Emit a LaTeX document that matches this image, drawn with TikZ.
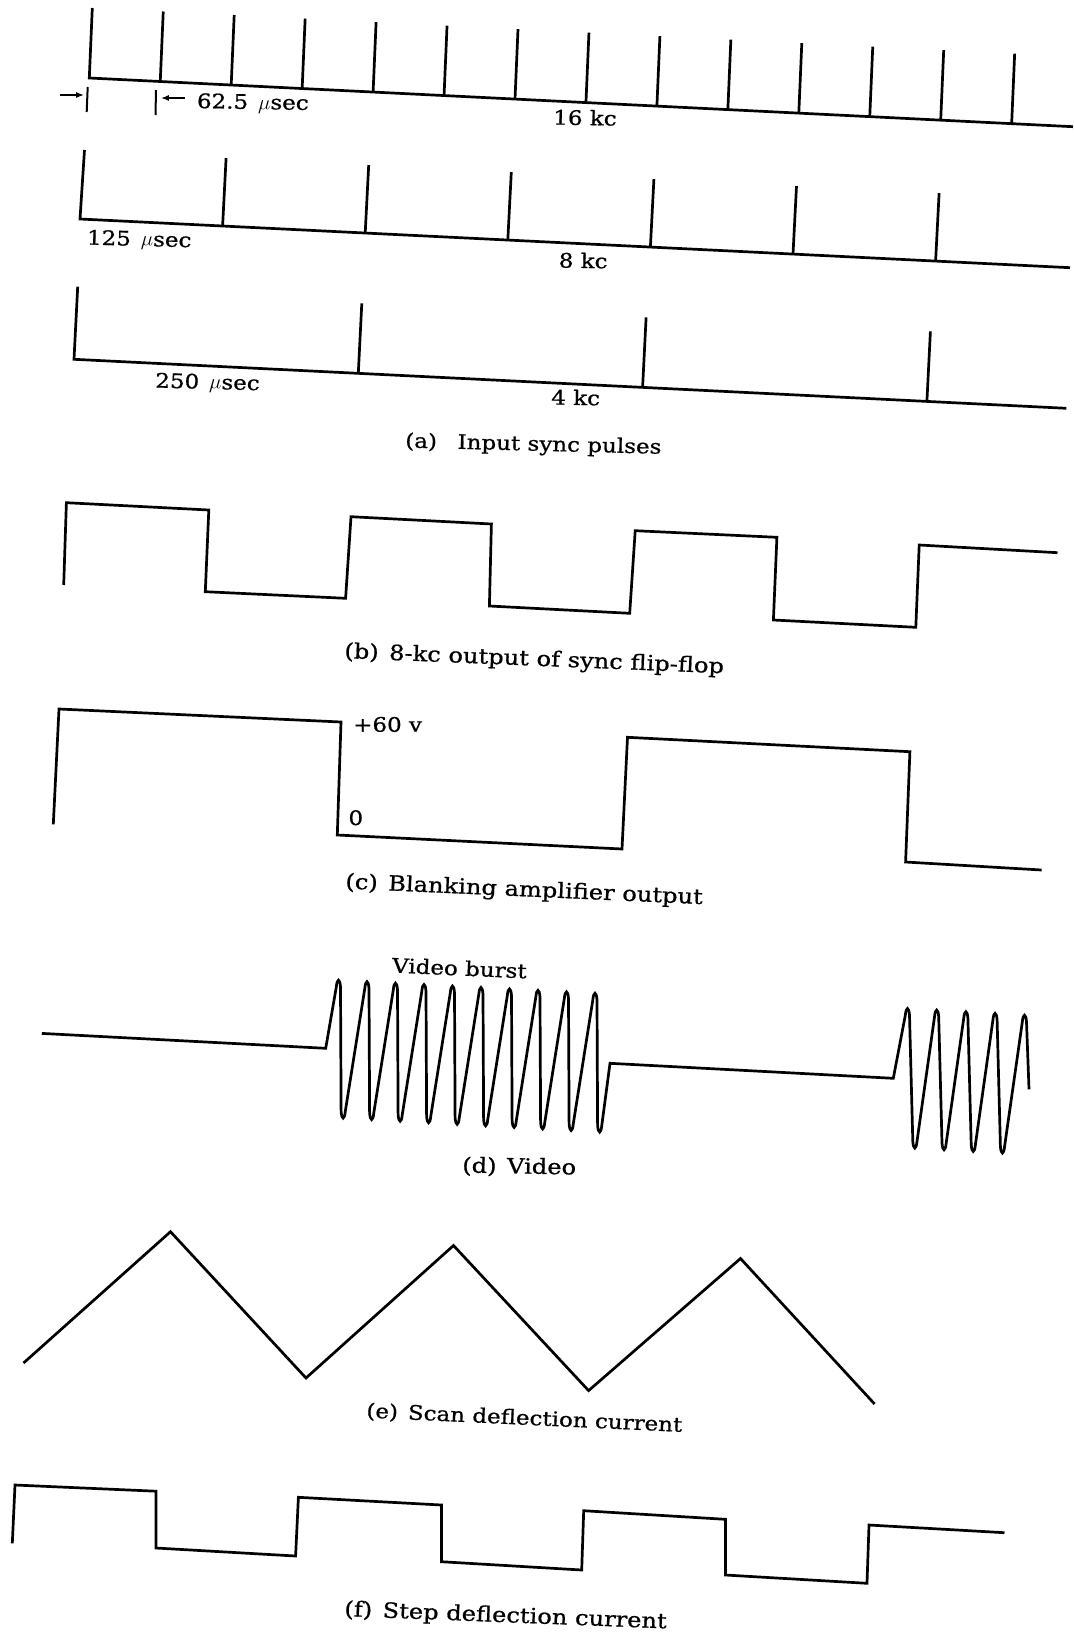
\documentclass[tikz,border=0pt]{standalone}
\usepackage{fontspec}
\setmainfont{DejaVu Serif}[FakeStretch=1.15, FakeBold=0.8]
\usepackage{tikz}
\usetikzlibrary{arrows.meta, calc}

\begin{document}
\begin{tikzpicture}[x=1pt, y=-1pt,
    trace/.style={line width=2.7pt, line join=miter},
    dim/.style={line width=2pt},
    lbl/.style={anchor=base west, inner sep=0pt, font=\fontsize{20}{24}\selectfont},
    capt/.style={lbl, font=\fontsize{21}{25}\selectfont}]

\useasboundingbox[fill=white] (0,0) rectangle (1073,1637);

% (a) Input sync pulses - 16 kc row
\draw[trace] (92.3,8) -- (89.3,78) -- (1073,126.7);
\foreach \i in {1,...,13} {
    \draw[trace] ({89.3+70.95*\i},{78+0.0495*70.95*\i}) -- ++(3,-70);
}
\coordinate (tickL) at (87.2,95);
\coordinate (tickR) at (155.8,98);
\draw[dim] (87.7,87) -- (86.7,112);
\draw[dim] (156,90) -- (155.5,115);
\draw[dim, -{Latex[length=8pt, width=6pt]}] ([xshift=-27pt]tickL) -- ([xshift=-3pt]tickL);
\draw[dim, -{Latex[length=8pt, width=6pt]}] ([xshift=29pt]tickR) -- ([xshift=5pt]tickR);
\node[lbl, rotate=-1] (per16) at (196.7,108) {62.5\enspace$\mu$sec};
\node[lbl, rotate=-1] (f16) at (553,124.5) {16 kc};

% 8 kc row
\draw[trace] (84.5,150) -- (80,219) -- (1070,267.7);
\foreach \i in {1,...,6} {
    \draw[trace] ({80+142.6*\i},{219+0.0492*142.6*\i}) -- ++(3.5,-68);
}
\node[lbl, rotate=-1.5] (per8) at (86.7,244.5) {125\enspace$\mu$sec};
\node[lbl, rotate=-1] (f8) at (558.5,267.5) {8 kc};

% 4 kc row
\draw[trace] (77.7,286.7) -- (74,359.3) -- (1066.4,408.3);
\foreach \i in {1,...,3} {
    \draw[trace] ({74+284.3*\i},{359.3+0.0494*284.3*\i}) -- ++(3.5,-70);
}
\node[lbl, rotate=-1.5] (per4) at (155,387.5) {250\enspace$\mu$sec};
\node[lbl, rotate=-1] (f4) at (551,404.5) {4 kc};

\node[capt, rotate=-1.4, font=\fontsize{20}{24}\selectfont] (capA) at (405,447.5) {(a)\enspace\, Input sync pulses};

% (b) flip-flop output
\draw[trace] (63.7,585) -- (66.4,502.7) -- (208.8,510) -- (205.3,591.7) -- (345.6,598.3)
    -- (351,516.7) -- (491.4,524) -- (489.4,606) -- (629.7,613.3) -- (635.2,530.7)
    -- (776.9,537.3) -- (773.4,620) -- (915.8,627.3) -- (919.2,545) -- (1057.5,552.7);
\node[capt, rotate=-2.3] (capB) at (344,658) {(b)\enspace 8-kc output of sync flip-flop};

% (c) blanking amplifier
\draw[trace] (53.3,824.3) -- (59,709) -- (341,722) -- (337.3,835) -- (622,849)
    -- (627.5,737.3) -- (909.9,751.7) -- (905.6,862) -- (1041.6,870);
\node[lbl] (vhi) at (353,731.7) {+60 v};
\node[lbl] (vlo) at (348.3,825) {0};
\node[capt, rotate=-2.5] (capC) at (345,888.5) {(c)\enspace Blanking amplifier output};

% (d) video
\draw[trace] (41.8,1033.4) -- (325.7,1048.3)
    \foreach \i [evaluate=\i as \xp using 338.3+28.5*\i, evaluate=\i as \yp using 980+1.45*\i,
                 evaluate=\i as \yb using 1118.3+1.55*\i] in {0,...,9} {
        -- ({\xp-2},{\yp+7}) .. controls ({\xp-1.2},{\yp-2}) and ({\xp+1.6},{\yp-2}) .. ({\xp+2.2},{\yp+7})
        -- ({\xp+2.8},{\yb-7}) .. controls ({\xp+3.4},{\yb+2}) and ({\xp+6.2},{\yb+2}) .. ({\xp+7},{\yb-7}) }
    -- (610,1063.3) -- (893.3,1078.3)
    \foreach \i [evaluate=\i as \xp using 907.3+29.2*\i, evaluate=\i as \yp using 1008.3+1.6*\i,
                 evaluate=\i as \yb using 1148.3+1.65*\i] in {0,...,3} {
        -- ({\xp-2},{\yp+7}) .. controls ({\xp-1.2},{\yp-2}) and ({\xp+1.6},{\yp-2}) .. ({\xp+2.2},{\yp+7})
        -- ({\xp+5.5},{\yb-7}) .. controls ({\xp+6.1},{\yb+2}) and ({\xp+8.9},{\yb+2}) .. ({\xp+9.7},{\yb-7}) }
    -- (1022.3,1022) .. controls (1023.1,1013) and (1025.9,1013) .. (1026.5,1022) -- (1029,1089.3);
\node[lbl, rotate=-2.5] (burst) at (391.7,972.5) {Video burst};
\node[capt, rotate=-1] (capD) at (462,1172.5) {(d)\enspace Video};

% (e) scan deflection
\draw[trace] (23.5,1363) -- (170.5,1231.7) -- (306,1378) -- (453.5,1245.5)
    -- (588.6,1390.6) -- (740.5,1258.5) -- (874.6,1404);
\node[capt, rotate=-2.6, font=\fontsize{20}{24}\selectfont] (capE) at (366,1417.5) {(e)\enspace Scan deflection current};

% (f) step deflection
\draw[trace] (12.3,1543.3) -- (15,1485) -- (156,1491.2) -- (156,1548) -- (295.6,1556)
    -- (298.4,1497.3) -- (441.4,1505) -- (441.4,1561.7) -- (581.7,1570) -- (583.7,1510.7)
    -- (725.4,1519.3) -- (725.4,1575) -- (867,1583.3) -- (869,1525) -- (1004.5,1532.7);
\node[capt, rotate=-2.2] (capF) at (344,1616) {(f)\enspace Step deflection current};
\end{tikzpicture}
\end{document}
